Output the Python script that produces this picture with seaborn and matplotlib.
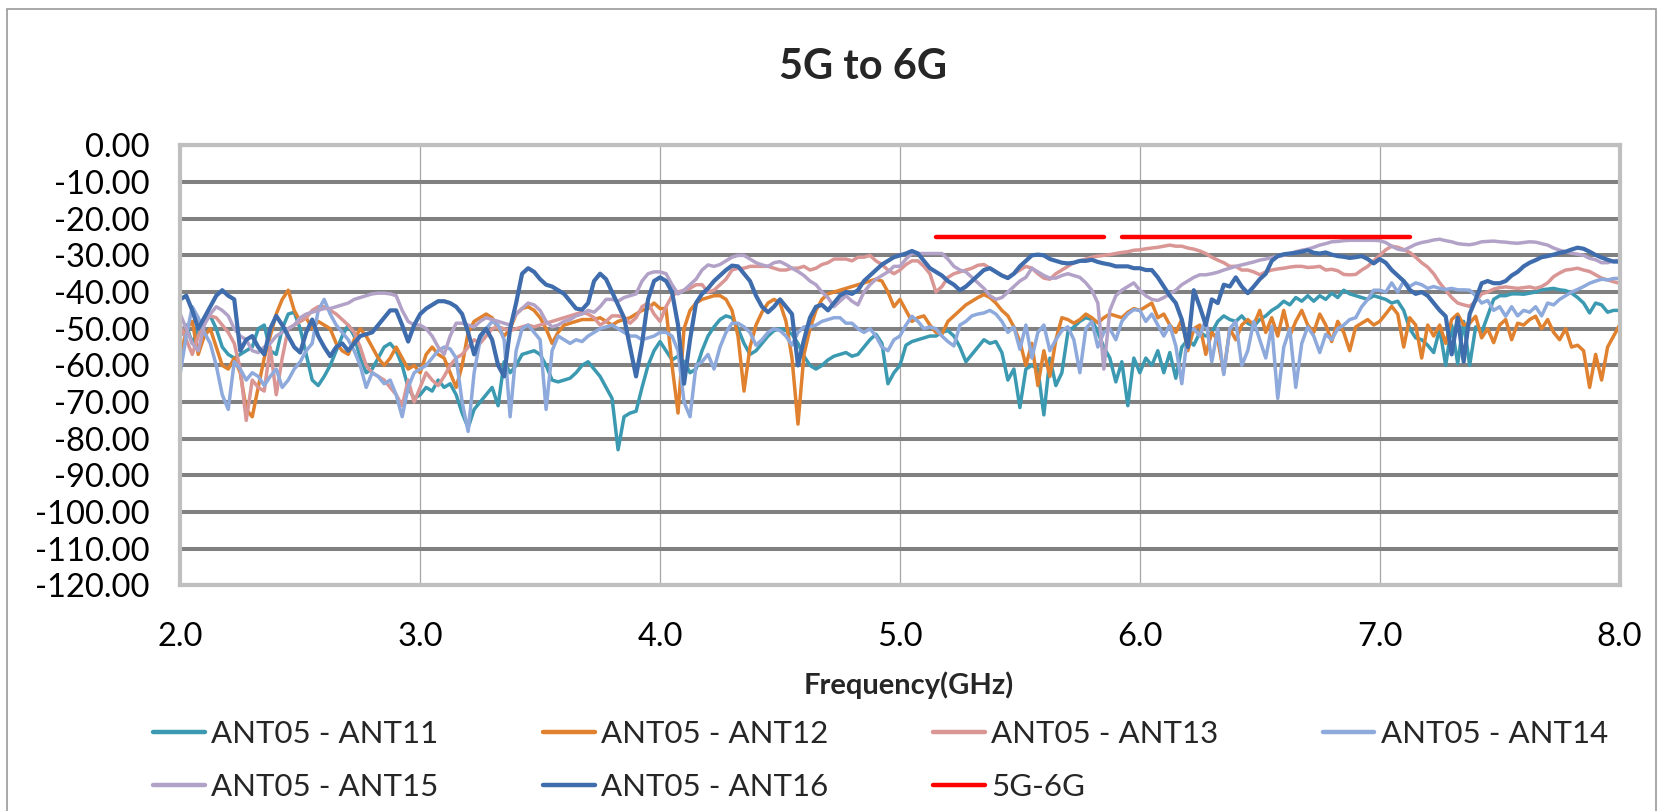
import numpy as np
import pandas as pd
import matplotlib
matplotlib.use("Agg")
import matplotlib.pyplot as plt
import seaborn as sns
from matplotlib.lines import Line2D
from matplotlib.patches import Rectangle

sns.set_style("white")
plt.rcParams['font.family'] = ['Lato', 'DejaVu Sans']
plt.rcParams['axes.unicode_minus'] = False

# frequency grid, 25 MHz step (GHz)
freq = np.round(np.linspace(2.0, 8.0, 241), 3)

# isolation values (dB), 2.0 ... 8.0 GHz
ant11 = [
    -52, -49, -54, -50, -48, -46.5, -50, -55, -57, -58, -57, -56, -55, -50, -49, -56, -57, -50, -46, -45.5,
    -50, -57, -64, -65.5, -63, -60, -56, -52, -49, -52, -58, -62, -61, -58, -55, -54, -56, -60, -66, -69,
    -68, -66, -67, -64, -66, -65, -68, -73, -77, -72, -70, -68, -66, -71, -59, -62, -60, -57, -56.5, -56,
    -57, -60, -64, -64.5, -64, -63.5, -62, -60, -59, -61, -63, -66, -69, -83, -74, -73, -72.5, -66, -60, -56,
    -53.5, -56, -58.5, -57.5, -59, -62, -61, -56, -52, -49.5, -47.5, -46.5, -47, -50, -54, -57, -56, -54, -52, -50.5,
    -50, -50.5, -51.5, -54, -57.5, -60, -61, -60, -58.5, -57.5, -57, -56.5, -57.5, -57, -55, -53, -51.5, -54, -65, -62,
    -60, -54.5, -53.5, -53, -52.5, -52, -52, -51, -50.5, -52, -55, -59, -57, -55, -53, -54, -53.5, -56.5, -64, -61,
    -71.5, -61, -60, -61, -73.5, -58, -65.5, -62, -51, -49.5, -48, -47, -47.5, -51, -55, -58, -64.5, -59, -71, -58,
    -62, -58, -60, -56, -62, -56.5, -63.5, -55, -53, -54.5, -51, -52, -51, -48, -46.5, -47.5, -48, -46.5, -48.5, -49.3,
    -47.5, -46.5, -45, -44, -42.5, -43.5, -41.5, -42.5, -41, -42.5, -41, -42, -40.3, -41.5, -39.5, -40.5, -41, -41.5, -42, -41,
    -41.5, -42, -43, -42.5, -45, -50, -52.5, -53, -54.5, -56.5, -50, -60, -49, -59.5, -48, -60, -49.5, -51, -46.5, -42,
    -41, -41, -40.5, -40.5, -40.6, -40.3, -40, -39.4, -39.2, -39, -39.4, -39.6, -40.3, -41.5, -43, -45.7, -43, -43.5, -45.5, -45,
    -45,
]
ant12 = [
    -59, -50, -48, -57, -52, -50, -55, -60, -61, -58, -62, -72, -74, -66, -58, -52, -46, -42, -39.5, -45,
    -48, -47, -50, -48, -49, -50, -54, -56, -57, -53, -50, -52, -55, -58, -60, -58, -55, -58, -61, -60,
    -62, -57, -55, -57, -58, -62, -66, -60, -51, -48, -47, -46, -47, -50, -52, -50, -46, -44.5, -44, -45,
    -47, -50, -54, -51, -49, -48.5, -48, -47.5, -47.5, -47.5, -47, -48, -49, -48, -47.5, -47, -46, -45, -44.5, -43,
    -44.5, -44.5, -60, -73, -50, -45, -43, -42, -41.5, -41, -41, -42, -45, -52, -67, -55, -49, -45.5, -43, -42,
    -43, -48, -58, -76, -57, -50, -45, -42, -40.5, -40, -39.5, -39, -38.5, -38, -37.5, -37, -36.5, -37, -40, -44,
    -42, -45, -48, -47, -46.5, -49, -51, -51.5, -48, -46.5, -45, -43.5, -42.5, -41.5, -40.7, -41.5, -43, -45, -46.5, -49.5,
    -53.5, -60, -54, -65.5, -56, -63, -53, -47, -47.5, -48.5, -47.5, -46, -47, -48.4, -47, -46, -46.5, -47, -45.5, -44.5,
    -45, -44, -43, -47, -46, -49, -51, -47.5, -56, -50, -49, -57, -51, -53, -62, -50, -53, -49, -47.5, -49,
    -45, -51, -47, -52, -45, -52, -48, -45, -49, -51, -46, -49, -53.5, -48, -51, -56, -49.5, -48.5, -47.5, -49,
    -48, -46, -43.9, -46, -55, -47, -49, -58, -49, -52, -49, -54, -47.5, -46, -49, -48.5, -46.6, -52.5, -50, -53.8,
    -49, -47.5, -53, -48.5, -49, -47.5, -46.6, -50, -47.5, -51, -53, -50, -55, -54.5, -56, -66, -57, -64, -55, -52,
    -49,
]
ant13 = [
    -49, -53, -57, -52, -48, -46.5, -47, -49, -51, -54, -61, -75, -64, -66, -67, -55, -68, -58, -50, -49,
    -48, -47, -45, -44, -44, -45, -46, -47.5, -49, -51, -55, -60, -62, -63, -64, -66, -68, -71, -64, -70,
    -66, -62, -64, -65.5, -63, -60, -58, -57, -55, -53, -54, -52, -50, -49.5, -50, -50.5, -50, -49.5, -49, -49.5,
    -49, -48.5, -48, -47.5, -47, -46.5, -46, -45.5, -46, -47, -49, -48, -46.5, -46.5, -47, -48.5, -47, -44, -43, -46,
    -48, -44, -41, -40, -39.5, -39, -38, -38, -40, -39.5, -38, -36.5, -34, -33.5, -33.5, -33, -33, -33, -33, -33.5,
    -34, -34, -33.5, -33.5, -33, -34, -33.5, -32.5, -32, -31, -31, -31, -31.5, -30.5, -30.5, -30, -31.5, -32.5, -34, -35,
    -34, -32.5, -31.5, -31.5, -33, -35, -40, -38.5, -36, -35, -34.5, -34, -33.5, -32.7, -32.5, -33.5, -34.5, -35.5, -36, -35,
    -34, -33, -33.5, -35, -36.2, -36.5, -35, -34, -33, -32, -31.5, -31, -30.5, -30.2, -30, -29.8, -29.5, -29.2, -29, -28.6,
    -28.5, -28.2, -28, -27.8, -27.5, -27.2, -27.5, -27.5, -28, -28.3, -28.8, -29.5, -30.5, -31.3, -32, -33, -33, -34, -34, -34.5,
    -35.3, -34.5, -34, -33.7, -33.5, -33.2, -33, -33, -33.3, -33.2, -33, -34, -33.8, -34.2, -35.2, -35.3, -35.2, -34, -33, -31.5,
    -30, -28.5, -27.5, -27.8, -28.4, -29.2, -30.5, -32, -33.2, -35, -37.5, -39.5, -41.5, -43, -43.5, -43.9, -42.5, -40.5, -40, -39.2,
    -38.8, -38.6, -38.8, -39, -38.8, -38.6, -39, -38.5, -37.5, -35.8, -34.8, -34, -33.8, -33.5, -34, -34.4, -35.3, -36.2, -36.7, -37.2,
    -37.6,
]
ant14 = [
    -62, -52, -44, -47, -51, -54, -60, -68, -72, -59, -61, -64, -62, -63, -65.5, -63, -61, -66, -64, -61,
    -59, -56, -54, -45, -42, -46, -49, -51, -53, -56, -60, -66, -62, -63, -65, -64, -68, -74, -66, -62,
    -61, -60, -58, -56, -55, -55.5, -58, -70, -78, -62, -53, -50, -48, -49, -53, -74, -56, -50, -49, -51,
    -53, -72, -56, -52, -53, -54, -53, -53.5, -52, -51, -50, -49.5, -49, -50, -51, -52, -52, -53, -52.5, -52,
    -51, -51, -52, -56, -70, -74, -60, -59, -57, -61, -55, -51, -48.5, -48.5, -49.5, -51, -54.5, -53, -51, -50,
    -50.5, -52, -54.5, -51, -49.5, -49.5, -49, -48, -47.5, -47, -47, -48.5, -48.5, -50, -51, -50, -52, -55, -56, -53,
    -52, -49, -46.6, -48, -50, -49.5, -50, -52, -53.5, -54.7, -49, -48, -46.5, -46, -45.7, -45, -46, -48, -51, -49.5,
    -55.6, -49, -58, -51, -49, -56, -53, -50.5, -49.5, -53, -62, -50, -48, -55, -51, -50, -53, -48, -46, -44.8,
    -45, -48, -46, -49, -52, -49, -54.7, -65, -51, -50, -52, -47.5, -59, -50, -62.5, -50, -48, -60, -56, -48,
    -53, -58, -49.3, -69, -55, -50, -66, -54, -49.5, -52, -56.5, -51.5, -53, -50, -49, -47.5, -47, -44, -42, -39.5,
    -39.5, -40, -37.5, -40, -37, -38.5, -37.5, -38, -39, -38.5, -39, -39.3, -39, -39.4, -39.4, -39.5, -41, -43, -42.3, -45,
    -44, -46.6, -44, -46.5, -45, -45.5, -44, -46.5, -43, -43.5, -42, -41, -40, -39.3, -38.5, -37.6, -37, -36.5, -36.7, -36.3,
    -36.3,
]
ant15 = [
    -46, -50, -54, -56, -49, -46, -44, -45, -46.5, -50, -52, -53, -56, -56.5, -55, -54, -52, -51, -50, -49,
    -47, -46, -45.5, -45, -44.5, -44.5, -44, -43.5, -43, -42, -41.5, -41, -40.5, -40.3, -40.3, -40.5, -41, -45, -48, -49,
    -49, -50, -52, -55, -57, -52, -48.5, -48.5, -49, -49.5, -48, -47, -47.5, -48, -48.5, -49, -46, -44.5, -43, -43.5,
    -45, -48, -49.5, -49, -48, -47.5, -46.5, -46, -45, -45.5, -44, -42, -42, -42.5, -41.5, -41, -40.5, -37, -35, -34.5,
    -34.5, -35, -38, -40.5, -39.5, -38, -36.5, -34, -32.6, -33, -32.5, -31.5, -30.5, -30, -30, -31, -32, -32.6, -33, -32,
    -31.7, -32.5, -33.5, -34.4, -35.5, -37, -38, -40, -41.5, -44, -42.5, -41, -42.5, -43.5, -40, -38, -36.5, -35.5, -34.5, -33,
    -33, -31, -29.5, -29.5, -29.5, -29.5, -29.5, -29.5, -31, -33, -34, -34.5, -36, -37.5, -39, -41, -42, -41.5, -40, -38.5,
    -37, -36, -33.5, -34.5, -35.5, -36.2, -36.2, -35.5, -35, -35.5, -36, -37.5, -39.5, -43, -61, -45, -41, -39.5, -38.5, -37.5,
    -39.5, -41, -42, -42.3, -41.5, -40.5, -39.5, -38, -37, -36, -35.3, -35.3, -35, -34.6, -34, -33.5, -33, -32.6, -32.2, -31.8,
    -31.3, -31, -30.6, -30.3, -30, -29.6, -29, -28.6, -28.3, -27.8, -27.2, -26.8, -26.3, -26.2, -26, -25.9, -25.9, -25.9, -25.9, -25.9,
    -26, -26.5, -27.5, -28.3, -28.6, -27.8, -27, -26.5, -26.2, -25.8, -25.6, -26, -26.3, -26.8, -27, -27.1, -26.8, -26.3, -26.2, -26.1,
    -26.3, -26.4, -26.6, -26.7, -26.5, -26.3, -26.4, -26.8, -27.2, -28, -28.6, -29, -29.4, -29.7, -30, -30.8, -31.2, -32, -32, -31.5,
    -31.3,
]
ant16 = [
    -42, -41, -45, -50, -47, -44, -41, -39.5, -41, -42, -56, -53, -52, -55, -57, -50, -46.5, -49, -52, -55,
    -56.5, -51, -47.5, -52, -55, -57.5, -55, -54, -56, -54, -52, -51.5, -51, -49, -47, -45, -45, -49, -53.5, -49,
    -46, -44.5, -43.5, -42.5, -42.5, -43, -44, -46, -51, -57, -52, -50, -53, -60, -63, -50, -43, -35, -33.5, -34.5,
    -36.5, -38, -38.5, -39.5, -40.5, -42.5, -44.5, -44.8, -43, -37, -35, -36.5, -40, -43.5, -47, -55, -63, -54, -42, -37,
    -36, -37, -40, -49, -65, -53, -43, -40.5, -39, -37, -35.5, -34, -32.8, -33, -35, -37, -41, -44, -45.5, -44,
    -42, -44, -46, -60, -53, -47, -44, -43.5, -45, -43, -41, -40, -40.5, -39.5, -37, -35.5, -34, -32.5, -31.5, -30.5,
    -30, -29.5, -28.8, -29.5, -31.5, -33.5, -34.5, -35.5, -37, -38, -39.5, -38.5, -37, -35.5, -34, -33.5, -34.5, -35.5, -36.2, -35,
    -33, -31.5, -30, -29.8, -30, -31, -31.5, -32, -32.2, -32, -31.5, -31.5, -31.2, -31.8, -32.2, -32.5, -33, -33, -33, -33.5,
    -33.5, -34, -34, -36, -38.5, -41, -43, -47.5, -55, -39.5, -44, -49, -42, -43, -38, -38.5, -36, -38.5, -40.3, -38.5,
    -36.5, -35, -31.5, -30.2, -29.7, -29.5, -29.3, -29, -28.6, -29.3, -29.5, -29.2, -29.8, -30.2, -30.4, -30.7, -30.5, -30.2, -31, -32.2,
    -31, -32, -34, -35.5, -37, -39.4, -40.5, -40, -41, -43, -45, -46.6, -57, -47, -59, -46, -42, -37.6, -37, -37.6,
    -37.6, -37, -35.5, -34.5, -33, -32, -31.3, -30.5, -30.2, -29.8, -29.3, -29, -28.4, -27.9, -28.2, -29, -29.9, -30.6, -31.2, -31.7,
    -31.7,
]

# 5G-6G limit line, two segments
limit_freq = [5.15, 5.85, 5.925, 7.125]
limit_level = [-25, -25, -25, -25]
limit_seg = [0, 0, 1, 1]

pairs = ["ANT05 - ANT11", "ANT05 - ANT12", "ANT05 - ANT13",
         "ANT05 - ANT14", "ANT05 - ANT15", "ANT05 - ANT16"]
values = [ant11, ant12, ant13, ant14, ant15, ant16]
colors = ["#3B9AB1", "#E0812F", "#D99694", "#8EA9DB", "#B3A2C7", "#3E6CAC"]
widths = [2.5, 2.5, 2.5, 2.5, 2.5, 3.0]

df = pd.DataFrame({
    "freq": np.tile(freq, len(pairs)),
    "loss": np.concatenate([np.asarray(v, dtype=float) for v in values]),
    "pair": np.repeat(pairs, len(freq)),
})
limit_df = pd.DataFrame({"freq": limit_freq, "loss": limit_level, "seg": limit_seg})

fig = plt.figure(figsize=(16.63, 8.11), dpi=100)
ax = fig.add_axes([0.1084, 0.2781, 0.8655, 0.5427])

for name, col, lw in zip(pairs, colors, widths):
    sns.lineplot(data=df[df["pair"] == name], x="freq", y="loss", color=col,
                 linewidth=lw, estimator=None, ax=ax, legend=False)
sns.lineplot(data=limit_df, x="freq", y="loss", units="seg", estimator=None,
             color="#FF0000", linewidth=3.2, ax=ax, legend=False)

ax.set_xlim(2.0, 8.0)
ax.set_ylim(-120, 0)
ax.set_xticks(np.arange(2.0, 8.01, 1.0))
ax.set_yticks(np.arange(-120, 1, 10))
ax.set_xticklabels([f"{t:.1f}" for t in np.arange(2.0, 8.01, 1.0)])
ax.set_yticklabels([f"{t:.2f}" for t in np.arange(-120, 1, 10)])
ax.tick_params(axis="both", length=0, labelsize=23.5, colors="black")
ax.tick_params(axis="y", pad=22)
ax.tick_params(axis="x", pad=26)
ax.set_xlabel("")
ax.set_ylabel("")

ax.set_axisbelow(True)
ax.yaxis.grid(True, color="#808080", linewidth=2.9)
ax.xaxis.grid(True, color="#A6A6A6", linewidth=0.9)
for sp in ax.spines.values():
    sp.set_color("#BFBFBF")
    sp.set_linewidth(3)

fig.text(0.519, 0.918, "5G to 6G", ha="center", va="center",
         fontsize=30, fontweight="bold")
fig.text(0.5466, 0.155, "Frequency(GHz)", ha="center", va="center",
         fontsize=21, fontweight="bold")

handles = [Line2D([], [], color=c, linewidth=3.2) for c in colors]
handles.append(Line2D([], [], color="#FF0000", linewidth=3.2))
labels = pairs + ["5G-6G"]
order = [0, 4, 1, 5, 2, 6, 3]
fig.legend([handles[i] for i in order], [labels[i] for i in order],
           ncol=4, loc="upper left", bbox_to_anchor=(0.0828, 0.131),
           frameon=False, fontsize=22.5, handlelength=1.65, handletextpad=0.2,
           columnspacing=3.35, labelspacing=0.78, borderpad=0)

fig.patches.append(Rectangle((0.0045, -0.01), 0.9913, 0.9995, transform=fig.transFigure,
                             fill=False, edgecolor="#9A9A9A", linewidth=1.2))

fig.savefig("out.png", dpi=100)
